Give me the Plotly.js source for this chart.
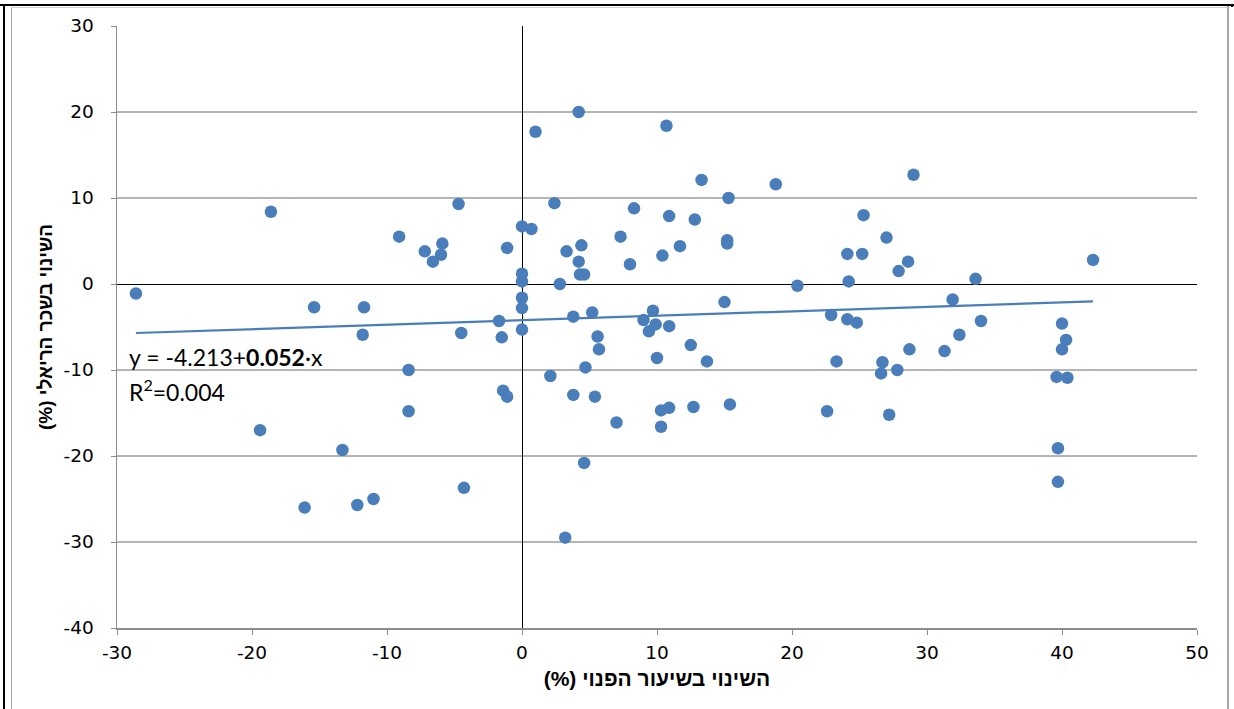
<!DOCTYPE html>
<html>
<head>
<meta charset="utf-8">
<script src="https://cdn.plot.ly/plotly-3.0.1.min.js"></script>
<style>
  html, body { margin: 0; padding: 0; background: #fff; }
  #wrap { position: relative; width: 1234px; height: 709px; overflow: hidden; }
  #chart { position: absolute; left: 0; top: 0; width: 1234px; height: 709px; }
  .ln { position: absolute; pointer-events: none; }
</style>
</head>
<body>
<div id="wrap">
  <div id="chart"></div>
  <div class="ln" style="left:0;top:4px;width:1234px;height:2px;background:#000;"></div>
  <div class="ln" style="left:3px;top:4px;width:2px;height:705px;background:#000;"></div>
  <div class="ln" style="left:11px;top:7px;width:1px;height:702px;background:#a6a6a6;"></div>
  <div class="ln" style="left:11px;top:7px;width:1217px;height:1px;background:#d0d0d0;"></div>
  <div class="ln" style="left:1227px;top:6px;width:2px;height:703px;background:#a6a6a6;"></div>
  <div class="ln" style="left:1231px;top:4px;width:2px;height:3px;background:#000;"></div>
</div>
<script>
// x: change in disposable rate (%), y: change in real wage (%)
const xChange = [
  -28.6, -19.4, -18.6, -16.1, -15.4, -13.3, -12.2, -11.7, -11.8, -11.0,
  -9.1, -8.4, -8.4, -7.2, -6.6, -6.0, -5.9, -4.7, -4.5, -4.3,
  -1.7, -1.5, -1.4, -1.1, -1.1, 0.0, 0.0, 0.0, 0.0, 0.0,
  0.0, 0.7, 1.0, 2.1, 2.4, 2.8, 3.2, 3.3, 3.8, 3.8,
  4.2, 4.2, 4.3, 4.4, 4.6, 4.6, 4.7, 5.2, 5.4, 5.6,
  5.7, 7.0, 7.3, 8.0, 8.3, 9.0, 9.4, 9.7, 9.9, 10.0,
  10.3, 10.3, 10.4, 10.7, 10.9, 10.9, 10.9, 11.7, 12.5, 12.7,
  12.8, 13.3, 13.7, 15.0, 15.2, 15.2, 15.3, 15.4, 18.8, 20.4,
  22.6, 22.9, 23.3, 24.1, 24.1, 24.2, 24.8, 25.2, 25.3, 26.6,
  26.7, 27.0, 27.2, 27.8, 27.9, 28.6, 28.7, 29.0, 31.3, 31.9,
  32.4, 33.6, 34.0, 39.6, 39.7, 39.7, 40.0, 40.0, 40.3, 40.4,
  42.3
];
const yChange = [
  -1.1, -17.0, 8.4, -26.0, -2.7, -19.3, -25.7, -2.7, -5.9, -25.0,
  5.5, -10.0, -14.8, 3.8, 2.6, 3.4, 4.7, 9.3, -5.7, -23.7,
  -4.3, -6.2, -12.4, -13.1, 4.2, 6.7, 1.2, 0.3, -1.6, -2.8,
  -5.3, 6.4, 17.7, -10.7, 9.4, 0.0, -29.5, 3.8, -3.8, -12.9,
  20.0, 2.6, 1.1, 4.5, 1.1, -20.8, -9.7, -3.3, -13.1, -6.1,
  -7.6, -16.1, 5.5, 2.3, 8.8, -4.2, -5.5, -3.1, -4.7, -8.6,
  -14.7, -16.6, 3.3, 18.4, 7.9, -4.9, -14.4, 4.4, -7.1, -14.3,
  7.5, 12.1, -9.0, -2.1, 5.1, 4.7, 10.0, -14.0, 11.6, -0.2,
  -14.8, -3.6, -9.0, 3.5, -4.1, 0.3, -4.5, 3.5, 8.0, -10.4,
  -9.1, 5.4, -15.2, -10.0, 1.5, 2.6, -7.6, 12.7, -7.8, -1.8,
  -5.9, 0.6, -4.3, -10.8, -19.1, -23.0, -4.6, -7.6, -6.5, -10.9,
  2.8
];
const trendIntercept = -4.213;
const trendSlope = 0.052;
const xTickVals = [-30, -20, -10, 0, 10, 20, 30, 40, 50];
const yTickVals = [-40, -30, -20, -10, 0, 10, 20, 30];
// trailing RLM keeps "(%)" inside the right-to-left run
const xTitle = 'השינוי בשיעור הפנוי (%)\u200F';
const yTitle = 'השינוי בשכר הריאלי (%)\u200F';
const eqText = 'y = -4.213+<b>0.052</b>·x';
const r2Text = 'R<sup>2</sup>=0.004';

const xMin = Math.min(...xChange), xMax = Math.max(...xChange);
const trendX = [xMin, xMax];
const trendY = trendX.map(v => trendIntercept + trendSlope * v);

const blue = '#4a7ebb';
const data = [
  { type: 'scatter', mode: 'lines', x: trendX, y: trendY,
    line: { color: blue, width: 2.2 }, hoverinfo: 'skip' },
  { type: 'scatter', mode: 'markers', x: xChange, y: yChange,
    marker: { color: blue, size: 12.5, line: { width: 0 } } }
];

const tickFont = { family: 'DejaVu Sans, Verdana, sans-serif', size: 18.5, color: '#000' };
const layout = {
  width: 1234, height: 709,
  margin: { l: 117, r: 37, t: 26, b: 81, pad: 0 },
  paper_bgcolor: '#fff', plot_bgcolor: '#fff',
  showlegend: false,
  xaxis: {
    range: [-30, 50], tickvals: xTickVals, ticktext: xTickVals.map(String),
    showgrid: false, zeroline: true, zerolinecolor: '#000', zerolinewidth: 1,
    showline: true, linecolor: '#8c8c8c', linewidth: 1.5,
    ticks: 'outside', ticklen: 5, tickcolor: '#8c8c8c', tickwidth: 1,
    tickfont: tickFont, ticklabelstandoff: 2,
    title: { text: xTitle, font: { family: 'Liberation Sans, Arial, sans-serif', size: 21, color: '#000', weight: 'bold' }, standoff: 9 },
    fixedrange: true
  },
  yaxis: {
    range: [-40, 30], tickvals: yTickVals, ticktext: yTickVals.map(String),
    showgrid: true, gridcolor: '#b4b4b4', gridwidth: 1.5,
    zeroline: true, zerolinecolor: '#000', zerolinewidth: 1,
    showline: true, linecolor: '#8c8c8c', linewidth: 1.5,
    ticks: 'outside', ticklen: 5, tickcolor: '#8c8c8c', tickwidth: 1,
    tickfont: tickFont, ticklabelstandoff: 13,
    title: { text: yTitle, font: { family: 'Liberation Sans, Arial, sans-serif', size: 19, color: '#000', weight: 'bold' }, standoff: 6 },
    fixedrange: true
  },
  annotations: [
    { x: -29.25, y: -8.5, xref: 'x', yref: 'y', xanchor: 'left', yanchor: 'middle',
      text: eqText, showarrow: false, font: { family: 'Lato, Carlito, sans-serif', size: 23, color: '#000' } },
    { x: -29.25, y: -12.4, xref: 'x', yref: 'y', xanchor: 'left', yanchor: 'middle',
      text: r2Text, showarrow: false, font: { family: 'Lato, Carlito, sans-serif', size: 23, color: '#000' } }
  ]
};

Plotly.newPlot('chart', data, layout, { displayModeBar: false, staticPlot: true });
</script>
</body>
</html>
